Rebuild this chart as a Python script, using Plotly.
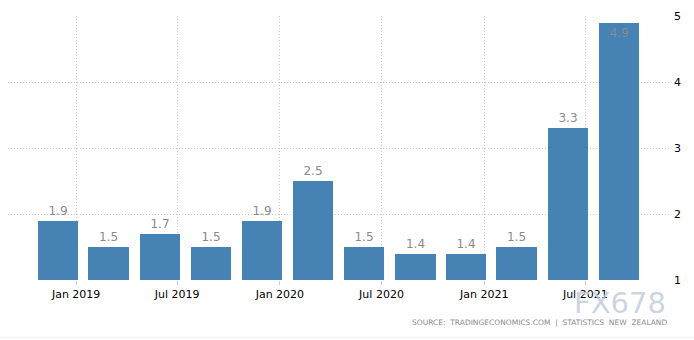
import plotly.graph_objects as go

dates = ["2018-11-30", "2019-02-28", "2019-05-31", "2019-08-31", "2019-11-30", "2020-02-29",
         "2020-05-31", "2020-08-31", "2020-11-30", "2021-02-28", "2021-05-31", "2021-08-31"]
values = [1.9, 1.5, 1.7, 1.5, 1.9, 2.5, 1.5, 1.4, 1.4, 1.5, 3.3, 4.9]
labels = [f"{v:.1f}" for v in values]
text_pos = ["outside"] * 11 + ["inside"]

x_tickvals = ["2019-01-01", "2019-07-01", "2020-01-01", "2020-07-01", "2021-01-01", "2021-07-01"]
x_ticktext = ["Jan 2019", "Jul 2019", "Jan 2020", "Jul 2020", "Jan 2021", "Jul 2021"]
y_tickvals = [1, 2, 3, 4, 5]

DAY_MS = 86400000

fig = go.Figure()
fig.add_trace(go.Bar(
    x=dates, y=values, text=labels, textposition=text_pos,
    insidetextanchor="end",
    textfont=dict(family="DejaVu Sans", size=12, color="#8a8a8a"),
    width=[72 * DAY_MS] * len(values),
    marker=dict(color="#4682b4", line=dict(width=0)),
    cliponaxis=False,
))

grid = dict(showgrid=True, gridcolor="#c8c8c8", griddash="1px,2px", gridwidth=1)

fig.update_layout(
    width=694, height=340,
    margin=dict(l=8, r=25, t=16, b=60),
    paper_bgcolor="white", plot_bgcolor="white",
    showlegend=False,
    font=dict(family="DejaVu Sans", size=11, color="#000000"),
    xaxis=dict(type="date", range=["2018-09-01", "2021-11-28"],
               tickmode="array", tickvals=x_tickvals, ticktext=x_ticktext,
               ticks="outside", ticklen=4, tickcolor="#cccccc",
               zeroline=False, showline=False, **grid),
    yaxis=dict(range=[1, 5], side="right", tickmode="array", tickvals=y_tickvals,
               ticks="", ticklabelstandoff=4, zeroline=False, showline=False, **grid),
    bargap=0,
    annotations=[
        dict(text="SOURCE:  TRADINGECONOMICS.COM  |  STATISTICS  NEW  ZEALAND",
             xref="paper", yref="paper", x=1, y=-0.16, xanchor="right", yanchor="middle",
             showarrow=False, font=dict(family="DejaVu Sans", size=7.5, color="#8a8a8a")),
        dict(text="FX678", xref="paper", yref="paper", x=0.998, y=-0.087,
             xanchor="right", yanchor="middle", showarrow=False,
             font=dict(family="DejaVu Sans", size=29, color="rgba(195,205,222,0.85)")),
    ],
    shapes=[dict(type="line", xref="paper", yref="paper", x0=-0.02, x1=1.04, y0=-0.217, y1=-0.217,
                 line=dict(color="#eeeeee", width=1))],
)

fig.write_html("out.html")
